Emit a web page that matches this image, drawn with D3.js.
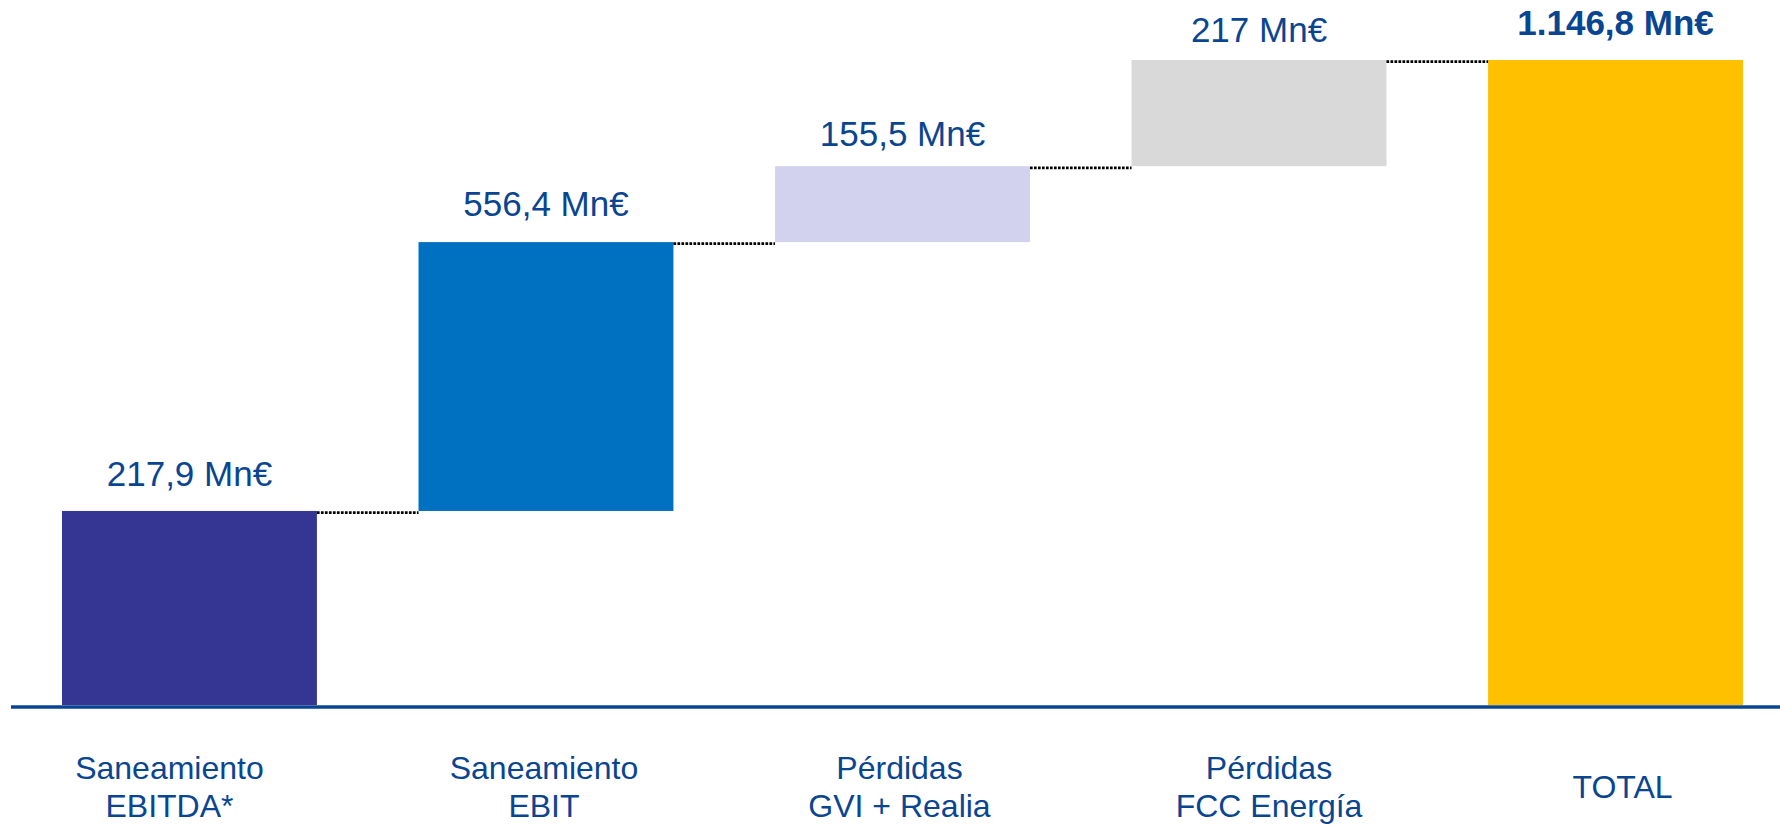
<!DOCTYPE html>
<html>
<head>
<meta charset="utf-8">
<script src="https://cdn.jsdelivr.net/npm/d3@7"></script>
<style>
  body { margin: 0; background: #fff; }
  text { font-family: "Liberation Sans", Arial, sans-serif; }
</style>
</head>
<body>
<div id="grafico"></div>
<script>
// --- DATOS ---
const categorias = ["Saneamiento EBITDA*", "Saneamiento EBIT", "Pérdidas GVI + Realia", "Pérdidas FCC Energía", "TOTAL"];
const lineasEtiqueta = [["Saneamiento", "EBITDA*"], ["Saneamiento", "EBIT"], ["Pérdidas", "GVI + Realia"], ["Pérdidas", "FCC Energía"], ["TOTAL"]];
const valores = [217.9, 556.4, 155.5, 217, 1146.8]; // Mn€ (textos de las etiquetas)
// el gráfico original no está a escala: tramos dibujados (en Mn€ del eje)
const tramosDibujados = [345, 478, 135, 188.8];
const colores = ["#353594", "#0070c0", "#d2d2ef", "#d9d9d9", "#ffc000"];

// --- CONFIGURACIÓN ---
const ancho = 1780, alto = 825;
const azulTexto = "#0a4591";
// ajustes de maquetación (el original no está perfectamente alineado)
const separacionValor = [25, 26, 20, 18, 25];
const ajusteCategoria = [-20, -2, -3, 10, 7];

const svg = d3.select("#grafico").append("svg")
  .attr("width", ancho).attr("height", alto);

const x = d3.scaleBand()
  .domain(categorias)
  .range([62, 1743])
  .paddingInner(0.285)
  .paddingOuter(0);

const total = valores[valores.length - 1];
const y = d3.scaleLinear().domain([0, total]).range([705, 60]);

// tramos acumulados: [inicio, fin] de cada barra
let acumulado = 0;
const barras = categorias.map((c, i) => {
  if (i === categorias.length - 1) return { cat: c, y0: 0, y1: total, i };
  const b = { cat: c, y0: acumulado, y1: acumulado + tramosDibujados[i], i };
  acumulado += tramosDibujados[i];
  return b;
});

const es = d3.formatLocale({ decimal: ",", thousands: ".", grouping: [3], currency: ["", " €"] });
const formato = v => (v % 1 ? es.format(",.1f")(v) : es.format(",d")(v)) + " Mn€";

// barras
svg.append("g").selectAll("rect")
  .data(barras)
  .join("rect")
  .attr("x", d => x(d.cat))
  .attr("width", x.bandwidth())
  .attr("y", d => y(d.y1))
  .attr("height", d => y(d.y0) - y(d.y1))
  .attr("fill", (d, i) => colores[i]);

// conectores punteados
svg.append("g").selectAll("line")
  .data(barras.slice(0, -1))
  .join("line")
  .attr("x1", d => x(d.cat) + x.bandwidth())
  .attr("x2", (d, i) => x(categorias[i + 1]))
  .attr("y1", d => y(d.y1) + 1.6)
  .attr("y2", d => y(d.y1) + 1.6)
  .attr("stroke", "#000")
  .attr("stroke-width", 2.7)
  .attr("stroke-dasharray", "2.7 1.3");

// línea base
svg.append("line")
  .attr("x1", 11).attr("x2", ancho)
  .attr("y1", y(0) + 2).attr("y2", y(0) + 2)
  .attr("stroke", "#0a4494")
  .attr("stroke-width", 3.5);

// etiquetas de valor
svg.append("g").selectAll("text")
  .data(barras)
  .join("text")
  .attr("x", d => x(d.cat) + x.bandwidth() / 2)
  .attr("y", (d, i) => y(d.y1) - separacionValor[i])
  .attr("text-anchor", "middle")
  .attr("fill", azulTexto)
  .attr("font-size", 35)
  .attr("font-weight", (d, i) => i === barras.length - 1 ? "bold" : "normal")
  .text((d, i) => formato(valores[i]));

// etiquetas de categoría
const grupoCat = svg.append("g").selectAll("text")
  .data(categorias)
  .join("text")
  .attr("x", (d, i) => x(d) + x.bandwidth() / 2 + ajusteCategoria[i])
  .attr("y", (d, i) => lineasEtiqueta[i].length === 1 ? 798 : 779)
  .attr("text-anchor", "middle")
  .attr("fill", azulTexto)
  .attr("font-size", 32);

grupoCat.selectAll("tspan")
  .data((d, i) => lineasEtiqueta[i])
  .join("tspan")
  .attr("x", function() { return this.parentNode.getAttribute("x"); })
  .attr("dy", (d, j) => j === 0 ? 0 : 38)
  .text(d => d);
</script>
</body>
</html>
